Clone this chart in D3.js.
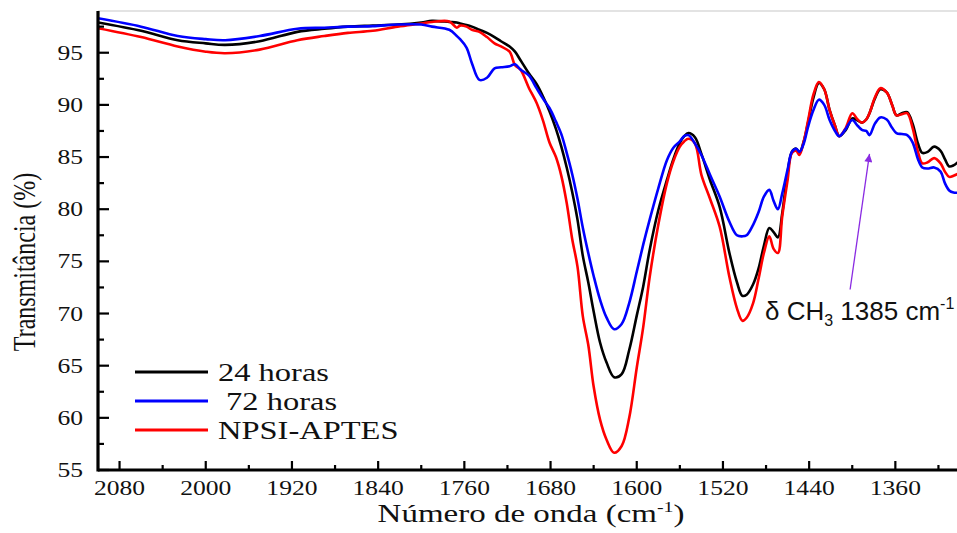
<!DOCTYPE html>
<html><head><meta charset="utf-8">
<script src="https://cdn.jsdelivr.net/npm/d3@7"></script>
<style>body{margin:0;background:#fff;} svg{display:block;}</style>
</head><body><svg id="c" width="957" height="533"></svg>
<script>
// ---------- data ----------
const wavenumber = [2100,2060,2026,2000,1982,1950,1915,1890,1868,1845,1822,1800,1790,1774,1767,1764,1758,1753,1746,1739,
1732,1726,1718,1713,1708,1700,1693,1687,1681,1675,1670,1665,1660,1655,1650,1645,1640,1634,1628,1621,
1614,1607,1600,1594,1588,1580,1572,1566,1560,1556,1552,1546,1540,1532,1523,1514,1507,1502,1498,1492,
1487,1482,1477,1473,1469,1465,1460,1456,1452,1449,1445,1441,1436,1431,1426,1421,1416,1412,1406,1400,
1395,1391,1387,1384,1379,1374,1368,1363,1359,1354,1349,1344,1339,1335,1330,1324,1318,1314,1310,1306,1300];

const horas24 = [97.9,97.1,96.2,95.9,95.75,96.1,97.0,97.3,97.5,97.6,97.7,97.9,98.05,97.95,97.9,97.8,97.66,97.5,97.2,96.9,
96.5,96.1,95.6,95.1,94.3,93.0,92.0,90.8,89.4,87.7,86.0,84.0,81.7,79.0,75.5,73.0,70.2,67.2,65.3,63.9,
64.2,66.5,69.8,72.6,76.1,79.9,82.8,84.8,86.35,87.0,87.3,86.9,85.3,82.8,80.2,75.8,73.0,71.7,71.8,72.8,
74.3,76.5,78.2,77.8,77.3,79.6,83.5,85.5,85.8,85.4,86.5,88.3,90.7,92.1,91.5,89.5,88.0,87.0,87.6,88.7,
88.5,88.3,88.6,89.2,90.6,91.5,91.2,90.0,89.0,89.2,89.3,88.2,86.3,85.4,85.5,86.0,85.6,84.8,84.1,84.2,84.7];

const horas72 = [98.3,97.5,96.6,96.3,96.2,96.6,97.3,97.4,97.5,97.55,97.7,97.7,97.5,97.2,96.6,96.3,95.5,94.0,92.4,92.6,
93.5,93.6,93.7,93.9,93.4,92.8,91.6,90.6,89.7,88.4,87.2,85.4,83.4,81.0,78.2,75.8,73.6,71.3,69.6,68.5,
69.0,71.0,74.0,76.6,79.0,82.0,84.7,85.9,86.5,87.0,87.1,86.3,85.2,83.3,81.2,78.8,77.5,77.4,77.5,78.5,
79.7,81.2,81.85,80.8,80.0,81.5,83.8,85.5,85.8,85.5,86.3,87.9,89.5,90.5,90.0,88.55,87.5,87.0,87.7,88.55,
88.0,87.6,87.5,87.1,88.2,88.8,88.6,87.8,87.3,87.2,87.1,86.4,84.8,84.0,83.9,84.0,83.6,82.5,81.8,81.6,81.6];

const npsiAptes = [97.35,96.5,95.6,95.1,94.95,95.3,96.2,96.6,96.9,97.1,97.5,97.8,97.95,98.0,97.4,97.6,97.5,97.2,97.0,96.5,
95.9,95.6,95.1,93.8,93.4,91.6,90.2,88.5,86.4,85.0,83.2,80.6,77.2,74.5,69.7,67.0,63.0,59.8,57.9,56.65,
57.3,60.0,64.8,68.7,73.5,78.5,82.5,84.6,86.0,86.5,86.75,86.3,83.3,81.0,78.3,73.5,70.5,69.3,69.6,71.0,
73.3,75.8,77.4,76.2,75.8,79.3,82.8,85.4,85.6,85.2,86.5,88.5,91.0,92.2,91.5,89.5,88.0,87.0,87.8,89.2,
88.6,88.3,88.6,89.2,90.7,91.6,91.2,90.0,89.0,89.1,89.2,87.8,85.5,84.4,84.5,84.9,84.4,83.6,83.1,83.2,83.5];

const seriesNames = ["24 horas", "\u00a072 horas", "NPSI-APTES"];
const seriesColors = ["#000000", "#0000ff", "#ff0000"];
const seriesValues = [horas24, horas72, npsiAptes];
const drawOrder = [0, 2, 1];

const xMajorTicks = [2080, 2000, 1920, 1840, 1760, 1680, 1600, 1520, 1440, 1360];
const xMinorTicks = [2040, 1960, 1880, 1800, 1720, 1640, 1560, 1480, 1400, 1320];
const yMajorTicks = [55, 60, 65, 70, 75, 80, 85, 90, 95];
const yMinorTicks = [57.5, 62.5, 67.5, 72.5, 77.5, 82.5, 87.5, 92.5, 97.5];

const xTitle = "Número de onda (cm";
const yTitle = "Transmitância (%)";
const annText = ["\u03b4 CH", "3", " 1385 cm", "-1"];
const annArrowTail = [1402, 72.3];
const annArrowTip = [1384, 85.3];
const annTextPos = [1481, 69.4];

// ---------- layout ----------
const svg = d3.select("#c");
const L = 98, R = 960, T = 11, B = 470;
const SX = 1.28; // horizontal stretch of the original figure's text
const serif = "'Liberation Serif', 'Times New Roman', serif";

const x = d3.scaleLinear().domain([2100, 1300]).range([L, R]);
const y = d3.scaleLinear().domain([55, 99]).range([B, T]);

svg.append("defs").append("clipPath").attr("id", "plot")
  .append("rect").attr("x", L).attr("y", T - 2).attr("width", R - L).attr("height", B - T + 2);

// top border
svg.append("line").attr("x1", L).attr("x2", 957).attr("y1", T).attr("y2", T)
  .attr("stroke", "#c8c8c8").attr("stroke-width", 1.2);

// curves
const line = d3.line().x((d, i) => x(wavenumber[i])).y(d => y(d)).curve(d3.curveCatmullRom.alpha(0.5));
const gLines = svg.append("g").attr("clip-path", "url(#plot)");
drawOrder.forEach(k => {
  gLines.append("path").datum(seriesValues[k])
    .attr("d", line).attr("fill", "none")
    .attr("stroke", seriesColors[k]).attr("stroke-width", 2.6)
    .attr("stroke-linejoin", "round");
});

// axes lines
const axG = svg.append("g");
yMajorTicks.forEach(v => axG.append("line").attr("x1", L).attr("x2", L + 11).attr("y1", y(v)).attr("y2", y(v)).attr("stroke", "#000").attr("stroke-width", 2.2));
yMinorTicks.forEach(v => axG.append("line").attr("x1", L).attr("x2", L + 6).attr("y1", y(v)).attr("y2", y(v)).attr("stroke", "#000").attr("stroke-width", 2.2));
xMajorTicks.forEach(v => axG.append("line").attr("x1", x(v)).attr("x2", x(v)).attr("y1", B).attr("y2", B - 9).attr("stroke", "#000").attr("stroke-width", 2.2));
xMinorTicks.forEach(v => axG.append("line").attr("x1", x(v)).attr("x2", x(v)).attr("y1", B).attr("y2", B - 5).attr("stroke", "#000").attr("stroke-width", 2.2));
axG.append("line").attr("x1", L).attr("x2", 957).attr("y1", B).attr("y2", B).attr("stroke", "#000").attr("stroke-width", 3);
axG.append("line").attr("x1", L).attr("x2", L).attr("y1", T).attr("y2", B + 1.5).attr("stroke", "#000").attr("stroke-width", 3.2);

function sText(px, py, str, size, anchor, sx) {
  return svg.append("text")
    .attr("transform", `translate(${px},${py}) scale(${sx},1)`)
    .attr("font-family", serif).attr("font-size", size)
    .attr("text-anchor", anchor).attr("fill", "#111").text(str);
}
// tick labels
yMajorTicks.forEach(v => sText(L - 15, y(v) + 7, String(v), 20, "end", SX));
xMajorTicks.forEach(v => sText(x(v), B + 25, String(v), 20, "middle", SX));

// axis titles
const xt = svg.append("text")
  .attr("transform", `translate(531,522) scale(1.32,1)`)
  .attr("font-family", serif).attr("font-size", 25).attr("text-anchor", "middle").attr("fill", "#111");
xt.append("tspan").text(xTitle);
xt.append("tspan").attr("font-size", 15).attr("dy", -10).text("-1");
xt.append("tspan").attr("dy", 10).text(")");

svg.append("text")
  .attr("transform", `translate(35,262) scale(1.35,1) rotate(-90)`)
  .attr("font-family", serif).attr("font-size", 24).attr("text-anchor", "middle").attr("fill", "#111")
  .text(yTitle);

// legend
const legY = [372, 401, 430];
seriesNames.forEach((name, k) => {
  svg.append("line").attr("x1", 135).attr("x2", 208).attr("y1", legY[k]).attr("y2", legY[k])
    .attr("stroke", seriesColors[k]).attr("stroke-width", 3.2);
  sText(218, legY[k] + 9, name, 25, "start", 1.3).attr("xml:space", "preserve");
});

// annotation
svg.append("defs").append("marker").attr("id", "ah").attr("viewBox", "0 0 10 10")
  .attr("refX", 10).attr("refY", 5).attr("markerWidth", 10).attr("markerHeight", 8)
  .attr("markerUnits", "userSpaceOnUse").attr("orient", "auto")
  .append("path").attr("d", "M0,0 L10,5 L0,10 Z").attr("fill", "#8a2be2");
svg.append("line")
  .attr("x1", x(annArrowTail[0])).attr("y1", y(annArrowTail[1]))
  .attr("x2", x(annArrowTip[0])).attr("y2", y(annArrowTip[1]))
  .attr("stroke", "#8a2be2").attr("stroke-width", 1.3).attr("marker-end", "url(#ah)");

const at = svg.append("text")
  .attr("x", x(annTextPos[0])).attr("y", y(annTextPos[1]))
  .attr("font-family", "'Liberation Sans', Arial, sans-serif").attr("font-size", 26).attr("fill", "#111");
at.append("tspan").text(annText[0]);
at.append("tspan").attr("font-size", 16).attr("dy", 6).text(annText[1]);
at.append("tspan").attr("dy", -6).attr("xml:space", "preserve").text(annText[2]);
at.append("tspan").attr("font-size", 16).attr("dy", -11).text(annText[3]);
</script></body></html>
